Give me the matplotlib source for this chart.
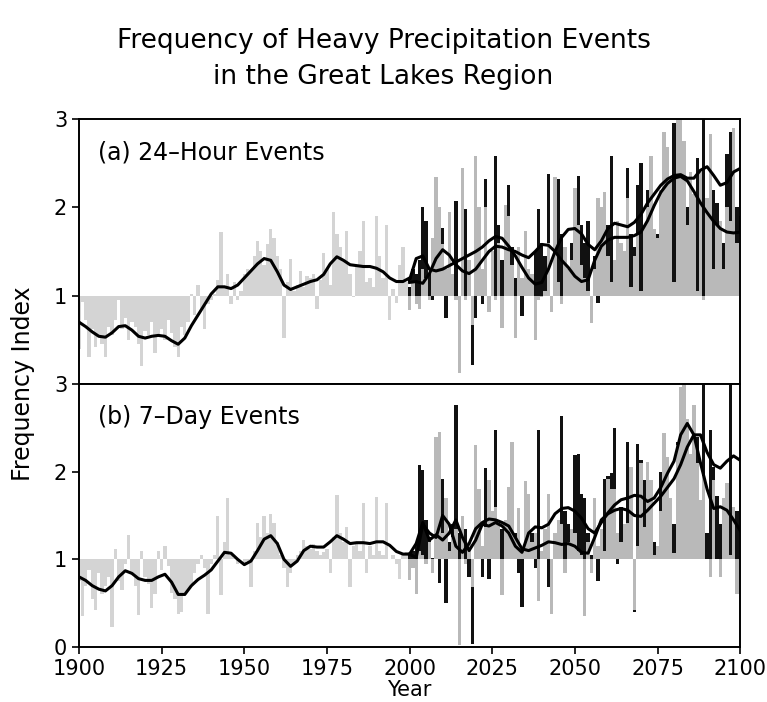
import matplotlib
matplotlib.use("Agg")
import matplotlib.pyplot as plt
import numpy as np

plt.rcParams['font.family'] = ['DejaVu Sans']

# ---- data -------------------------------------------------------------
obs_years = np.arange(1900, 2000)
proj_years = np.arange(2000, 2101)
obs_smooth_years = np.arange(1900, 2001, 2)
proj_smooth_years = np.arange(2000, 2101, 2)

# (a) 24-hour events
obs_24h = [
    0.40, 0.93, 0.72, 0.30, 0.62, 0.42, 0.55, 0.45, 0.30, 0.65,
    0.55, 0.72, 0.95, 0.62, 0.75, 0.50, 0.70, 0.65, 0.45, 0.20,
    0.60, 0.55, 0.70, 0.35, 0.55, 0.62, 0.50, 0.72, 0.58, 0.42,
    0.30, 0.65, 0.55, 0.70, 1.02, 0.78, 1.12, 0.85, 0.62, 0.90,
    0.95, 1.02, 1.18, 1.72, 1.10, 1.25, 0.90, 1.15, 0.95, 1.05,
    1.25, 1.30, 1.28, 1.45, 1.62, 1.50, 1.35, 1.58, 1.76, 1.65,
    1.45, 1.30, 0.52, 1.15, 1.42, 1.05, 1.12, 1.28, 1.10, 1.22,
    1.20, 1.25, 0.85, 1.18, 1.48, 1.30, 1.12, 1.95, 1.70, 1.55,
    1.40, 1.73, 1.25, 0.98, 1.35, 1.50, 1.85, 1.15, 1.20, 1.10,
    1.90, 1.45, 1.20, 1.80, 0.72, 1.08, 0.92, 1.35, 1.55, 1.15,
]
gray_24h = [
    0.84, 1.15, 0.90, 0.85, 1.30, 1.20, 0.95, 1.65, 2.34, 2.00,
    1.58, 1.30, 1.95, 1.25, 0.95, 0.12, 2.45, 0.95, 1.40, 0.67,
    2.58, 2.00, 1.30, 2.00, 0.82, 1.50, 0.95, 1.60, 0.63, 2.03,
    1.90, 1.35, 0.52, 1.55, 1.20, 1.73, 1.30, 1.25, 0.50, 0.95,
    0.98, 1.05, 1.60, 0.82, 2.34, 1.15, 0.90, 1.55, 1.30, 1.40,
    2.22, 1.80, 1.35, 1.20, 1.05, 0.69, 1.30, 2.10, 2.00, 2.17,
    1.45, 1.15, 1.40, 1.85, 1.60, 1.50, 2.10, 1.10, 1.45, 1.70,
    1.05, 1.80, 2.00, 2.58, 1.75, 1.65, 2.20, 2.85, 2.68, 2.30,
    1.15, 3.05, 3.05, 2.75, 1.80, 2.40, 2.15, 1.05, 2.40, 0.95,
    2.10, 2.83, 1.30, 1.80, 1.85, 1.30, 2.00, 1.85, 2.90, 1.60,
    1.70,
]
black_24h = [
    1.10, 1.30, 1.25, 1.40, 2.00, 1.85, 1.25, 0.95, 1.05, 1.60,
    1.77, 0.75, 1.50, 1.20, 2.07, 0.60, 1.30, 1.98, 1.15, 0.21,
    0.75, 1.60, 0.90, 2.32, 0.95, 1.45, 2.58, 1.80, 1.40, 1.70,
    2.25, 1.55, 1.20, 1.40, 0.77, 1.50, 1.20, 1.10, 1.50, 1.98,
    1.60, 1.45, 2.38, 0.95, 1.40, 2.32, 1.70, 1.45, 1.20, 1.60,
    1.90, 2.36, 1.80, 1.60, 1.85, 0.90, 1.45, 0.92, 1.50, 1.40,
    1.80, 2.58, 1.30, 1.60, 1.50, 1.40, 2.45, 1.70, 1.55, 2.25,
    2.50, 1.50, 2.20, 1.90, 1.60, 1.70, 1.90, 2.00, 2.40, 2.20,
    2.95, 2.00, 2.20, 2.10, 2.00, 1.60, 1.80, 2.56, 2.20, 3.05,
    1.80, 2.00, 2.20, 2.05, 1.70, 1.60, 2.60, 2.85, 2.30, 2.00,
    1.90,
]
obs_smooth_24h = [
    0.70, 0.65, 0.59, 0.54, 0.53, 0.58, 0.65, 0.66, 0.61, 0.54,
    0.52, 0.54, 0.55, 0.54, 0.49, 0.45, 0.52, 0.66, 0.78, 0.90,
    1.02, 1.10, 1.10, 1.08, 1.12, 1.20, 1.28, 1.36, 1.42, 1.40,
    1.27, 1.12, 1.07, 1.10, 1.13, 1.16, 1.18, 1.24, 1.36, 1.44,
    1.40, 1.35, 1.34, 1.33, 1.33, 1.31, 1.27, 1.20, 1.16, 1.16,
    1.20,
]
smooth_a_24h = [
    1.18, 1.42, 1.45, 1.30, 1.28, 1.30, 1.34, 1.38, 1.42, 1.46,
    1.50, 1.55, 1.62, 1.67, 1.65, 1.56, 1.45, 1.32, 1.20, 1.13,
    1.15, 1.30, 1.50, 1.66, 1.75, 1.76, 1.70, 1.58, 1.52, 1.62,
    1.76, 1.82, 1.80, 1.78, 1.83, 1.92, 2.05, 2.15, 2.25, 2.32,
    2.36, 2.37, 2.33, 2.33, 2.42, 2.46, 2.36, 2.25, 2.28, 2.40,
    2.44,
]
smooth_b_24h = [
    1.15, 1.16, 1.14, 1.25, 1.42, 1.52, 1.46, 1.35, 1.28, 1.25,
    1.30, 1.40, 1.50, 1.56, 1.55, 1.52, 1.50, 1.46, 1.43, 1.50,
    1.58, 1.57, 1.50, 1.40, 1.32, 1.22, 1.16, 1.18, 1.40, 1.56,
    1.63, 1.66, 1.66, 1.66, 1.68, 1.72, 1.85, 2.02, 2.17, 2.27,
    2.33, 2.35, 2.30, 2.18, 2.05, 1.94, 1.84, 1.76, 1.72, 1.71,
    1.72,
]

# (b) 7-day events
obs_7d = [
    0.75, 0.35, 0.70, 0.88, 0.55, 0.42, 0.85, 0.60, 0.70, 0.80,
    0.23, 1.12, 0.75, 0.65, 0.95, 1.28, 0.85, 0.70, 0.37, 1.10,
    0.80, 0.72, 0.45, 0.60, 1.09, 0.88, 1.15, 0.92, 0.62, 0.55,
    0.38, 0.40, 0.58, 0.65, 0.72, 0.85, 0.95, 1.05, 0.90, 0.38,
    0.95, 1.05, 1.49, 0.59, 1.20, 1.70, 1.05, 1.02, 0.95, 1.00,
    0.92, 0.98, 0.69, 1.10, 1.41, 1.25, 1.49, 1.30, 1.52, 1.42,
    1.20, 1.05, 0.90, 0.69, 0.85, 0.95, 1.05, 1.10, 1.22, 1.15,
    1.12, 1.18, 1.10, 1.05, 1.08, 1.12, 0.84, 1.25, 1.73, 1.30,
    1.20, 1.37, 0.69, 1.15, 1.20, 1.10, 1.64, 0.85, 1.15, 1.05,
    1.71, 1.10, 1.05, 1.64, 1.00, 1.05, 0.95, 0.78, 1.05, 1.08,
]
gray_7d = [
    0.77, 0.90, 0.61, 1.10, 1.05, 0.95, 1.20, 0.85, 2.40, 2.45,
    1.30, 1.70, 1.10, 1.25, 1.35, 0.02, 1.50, 0.95, 1.20, 0.69,
    2.30, 1.80, 1.15, 1.37, 1.90, 1.55, 1.60, 1.40, 0.59, 1.45,
    1.83, 2.34, 1.25, 1.58, 1.10, 1.89, 1.75, 1.20, 1.30, 0.52,
    1.10, 1.35, 1.75, 0.38, 1.30, 1.45, 1.40, 0.85, 1.20, 1.35,
    1.30, 1.10, 1.05, 0.35, 1.20, 0.85, 1.70, 1.15, 1.35, 1.10,
    1.92, 1.80, 1.80, 1.30, 1.20, 1.40, 1.42, 2.05, 0.42, 1.15,
    2.10, 1.37, 2.11, 1.90, 1.05, 1.15, 1.55, 2.44, 2.17, 1.70,
    1.07, 2.30, 2.97, 3.05, 2.60, 2.20, 2.76, 2.10, 1.68, 1.95,
    1.00, 0.80, 1.90, 1.00, 0.80, 1.70, 1.87, 1.05, 1.60, 0.61,
    2.35,
]
black_7d = [
    1.05, 1.10, 1.20, 2.08, 2.02, 1.45, 1.25, 1.02, 1.30, 0.73,
    1.92, 0.50, 1.20, 1.40, 2.76, 1.30, 1.20, 1.35, 0.80, 0.04,
    1.40, 1.20, 0.80, 2.04, 0.78, 1.30, 2.48, 1.15, 1.35, 1.20,
    1.50, 1.40, 1.30, 0.85, 0.46, 1.20, 1.10, 1.30, 0.90, 2.47,
    1.05, 1.25, 0.69, 0.98, 1.20, 1.30, 2.64, 1.55, 1.40, 1.25,
    2.19, 2.20, 1.75, 1.70, 1.30, 1.05, 1.05, 0.75, 1.25, 1.92,
    1.95, 1.98, 2.50, 0.95, 1.60, 1.30, 2.34, 1.50, 0.40, 2.32,
    2.13, 1.90, 1.60, 1.50, 1.20, 1.00, 2.00, 1.60, 1.70, 1.63,
    1.40, 2.34, 2.00, 1.90, 1.80, 2.00, 1.80, 2.40, 1.60, 3.05,
    1.30, 2.47, 2.05, 1.72, 1.40, 1.50, 1.60, 3.05, 1.45, 1.55,
    1.40,
]
obs_smooth_7d = [
    0.80, 0.76, 0.70, 0.66, 0.64, 0.70, 0.80, 0.87, 0.84, 0.78,
    0.76, 0.76, 0.80, 0.83, 0.74, 0.60, 0.60, 0.70, 0.77, 0.82,
    0.88, 0.98, 1.08, 1.07, 1.00, 0.94, 0.98, 1.10, 1.23, 1.27,
    1.18, 1.00, 0.92, 0.98, 1.10, 1.15, 1.14, 1.14, 1.20, 1.27,
    1.23, 1.18, 1.19, 1.19, 1.18, 1.20, 1.20, 1.16, 1.09, 1.06,
    1.06,
]
smooth_a_7d = [
    1.06, 1.02, 1.40, 1.30, 1.25, 1.50, 1.40, 1.15, 1.08, 1.18,
    1.35, 1.42, 1.46, 1.45, 1.42, 1.38, 1.25, 1.12, 1.10, 1.13,
    1.16, 1.20, 1.19, 1.17, 1.18, 1.15, 1.08, 1.07, 1.25, 1.45,
    1.52, 1.56, 1.58, 1.56, 1.50, 1.49, 1.56, 1.64, 1.72, 1.82,
    1.92, 2.08, 2.28, 2.42, 2.42, 2.22, 2.08, 2.04, 2.12, 2.18,
    2.13,
]
smooth_b_7d = [
    1.06, 1.18, 1.42, 1.22, 1.28, 1.22, 1.30, 1.45, 1.25, 1.10,
    1.22, 1.40, 1.38, 1.42, 1.38, 1.30, 1.15, 1.08, 1.30, 1.37,
    1.36, 1.40, 1.52, 1.58, 1.59, 1.55, 1.47, 1.35, 1.30, 1.42,
    1.53, 1.62, 1.68, 1.70, 1.73, 1.72, 1.66, 1.70, 1.82, 1.98,
    2.12, 2.42, 2.55, 2.42, 2.10, 1.80, 1.58, 1.60, 1.56, 1.45,
    1.33,
]

panels = [
    ("(a) 24\u2013Hour Events", obs_24h, gray_24h, black_24h,
     obs_smooth_24h, smooth_a_24h, smooth_b_24h),
    ("(b) 7\u2013Day Events", obs_7d, gray_7d, black_7d,
     obs_smooth_7d, smooth_a_7d, smooth_b_7d),
]

# ---- plot -------------------------------------------------------------
fig = plt.figure(figsize=(7.67, 7.02), dpi=100)
ax_top = fig.add_axes([0.103, 0.453, 0.862, 0.3775])
ax_bot = fig.add_axes([0.103, 0.0783, 0.862, 0.3747], sharex=ax_top)

for ax, (label, obs, gray, black, s_obs, s_a, s_b) in zip([ax_top, ax_bot], panels):
    base = 1.0
    # black series sits behind the gray one, only its excess shows
    ax.bar(proj_years, np.array(black) - base, bottom=base, width=1.0,
           color='#111111', linewidth=0, zorder=1)
    ax.bar(proj_years, np.array(gray) - base, bottom=base, width=1.0,
           color='#b9b9b9', linewidth=0, zorder=2)
    ax.bar(obs_years, np.array(obs) - base, bottom=base, width=1.0,
           color='#d4d4d4', linewidth=0, zorder=2)
    ax.plot(obs_smooth_years, s_obs, color='black', lw=2.2, zorder=3)
    ax.plot(proj_smooth_years, s_a, color='black', lw=2.2, zorder=3)
    ax.plot(proj_smooth_years, s_b, color='black', lw=2.2, zorder=3)

    ax.set_xlim(1900, 2100)
    ax.set_ylim(0, 3)
    ax.text(0.028, 0.875, label, transform=ax.transAxes, fontsize=17,
            ha='left', va='center')
    for s in ax.spines.values():
        s.set_linewidth(1.4)
    ax.tick_params(direction='out', length=5, width=1.2, labelsize=15)

ax_top.set_yticks([1, 2, 3])
ax_bot.set_yticks([0, 1, 2, 3])
ax_top.tick_params(axis='x', labelbottom=False, length=0)
ax_bot.set_xticks([1900, 1925, 1950, 1975, 2000, 2025, 2050, 2075, 2100])
ax_bot.set_xlabel("Year", fontsize=15, labelpad=1)

fig.text(0.03, 0.453, "Frequency Index", rotation=90, fontsize=17,
         ha='center', va='center')
fig.text(0.5, 0.941, "Frequency of Heavy Precipitation Events",
         fontsize=19, ha='center', va='center')
fig.text(0.5, 0.891, "in the Great Lakes Region",
         fontsize=19, ha='center', va='center')

fig.savefig("out.png", dpi=100)
